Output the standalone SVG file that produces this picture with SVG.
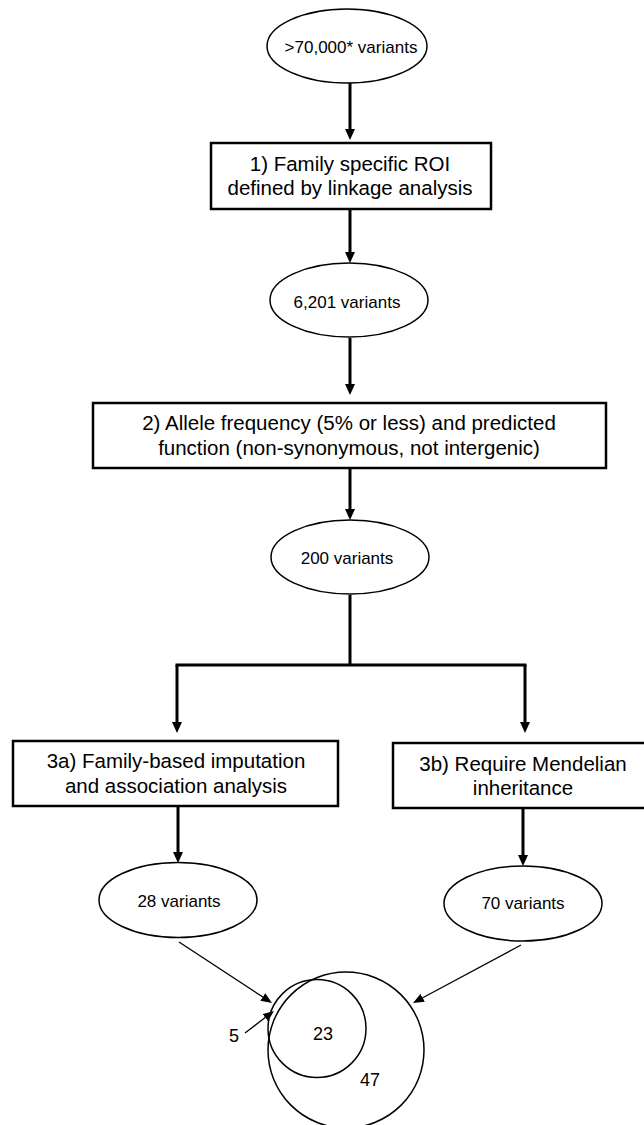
<svg xmlns="http://www.w3.org/2000/svg" width="644" height="1125" viewBox="0 0 644 1125">
<style>
.box{fill:#fff;stroke:#000;stroke-width:2.5}
.ell{fill:#fff;stroke:#000;stroke-width:1.5}
.ven{fill:none;stroke:#000;stroke-width:1.5}
.bt{font-family:"Liberation Sans",Arial,sans-serif;font-size:20.5px;fill:#000;text-anchor:middle}
.et{font-family:"Liberation Sans",Arial,sans-serif;font-size:17px;fill:#000;text-anchor:middle}
.vt{font-family:"Liberation Sans",Arial,sans-serif;font-size:18px;fill:#000;text-anchor:middle}
.thick{fill:none;stroke:#000;stroke-width:3}
.thin{fill:none;stroke:#000;stroke-width:1.3}
</style>
<defs>
<marker id="ah" markerUnits="userSpaceOnUse" markerWidth="11" markerHeight="10" viewBox="0 0 11 10" refX="0" refY="5" orient="auto"><path d="M0,0 L11,5 L0,10 z" fill="#000"/></marker>
<marker id="ahs" markerUnits="userSpaceOnUse" markerWidth="11" markerHeight="9" viewBox="0 0 11 9" refX="0" refY="4.5" orient="auto"><path d="M0,0 L11,4.5 L0,9 z" fill="#000"/></marker>
</defs>
<g id="connectors">
<path class="thick" d="M350,83 V129" marker-end="url(#ah)"/>
<path class="thick" d="M350,209 V252" marker-end="url(#ah)"/>
<path class="thick" d="M350,338 V384" marker-end="url(#ah)"/>
<path class="thick" d="M350,468 V509" marker-end="url(#ah)"/>
<path class="thick" d="M350,595 V665 M175.5,665 H526.5"/>
<path class="thick" d="M177,665 V722" marker-end="url(#ah)"/>
<path class="thick" d="M525,665 V722" marker-end="url(#ah)"/>
<path class="thick" d="M178,806 V852" marker-end="url(#ah)"/>
<path class="thick" d="M523,808 V855" marker-end="url(#ah)"/>
<path class="thin" d="M179,942 L262.8,997" marker-end="url(#ahs)"/>
<path class="thin" d="M521,945 L422.7,997.8" marker-end="url(#ahs)"/>
<path class="thin" d="M245,1033 L265.2,1017.6" marker-end="url(#ahs)"/>
</g>
<g id="n0"><ellipse class="ell" cx="347" cy="46" rx="80" ry="37"/><text class="et" x="351" y="53">&gt;70,000* variants</text></g>
<g id="n1"><rect class="box" x="211" y="143" width="280" height="66"/><text class="bt" x="350" y="171">1) Family specific ROI</text><text class="bt" x="350" y="195">defined by linkage analysis</text></g>
<g id="n2"><ellipse class="ell" cx="349" cy="300" rx="79" ry="37"/><text class="et" x="347" y="308">6,201 variants</text></g>
<g id="n3"><rect class="box" x="93" y="403" width="513" height="65"/><text class="bt" x="349" y="430">2) Allele frequency (5% or less) and predicted</text><text class="bt" x="349" y="455">function (non-synonymous, not intergenic)</text></g>
<g id="n4"><ellipse class="ell" cx="350" cy="557" rx="79" ry="37"/><text class="et" x="347" y="564">200 variants</text></g>
<g id="n5"><rect class="box" x="13" y="741" width="325" height="65"/><text class="bt" x="176" y="768">3a) Family-based imputation</text><text class="bt" x="176" y="793">and association analysis</text></g>
<g id="n6"><rect class="box" x="393" y="743" width="262" height="65"/><text class="bt" x="523" y="771">3b) Require Mendelian</text><text class="bt" x="523" y="795">inheritance</text></g>
<g id="n7"><ellipse class="ell" cx="178" cy="900" rx="79" ry="37.5"/><text class="et" x="179" y="907">28 variants</text></g>
<g id="n8"><ellipse class="ell" cx="523" cy="903.5" rx="79" ry="37.5"/><text class="et" x="523" y="909">70 variants</text></g>
<g id="venn">
<circle class="ven" cx="346" cy="1050" r="78"/>
<circle class="ven" cx="317" cy="1028.5" r="49"/>
<text class="vt" x="323" y="1040">23</text>
<text class="vt" x="370" y="1086">47</text>
<text class="vt" x="234" y="1042">5</text>
</g>
</svg>
